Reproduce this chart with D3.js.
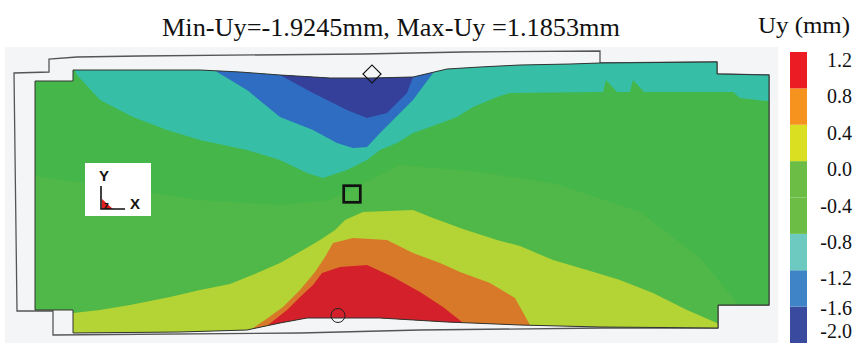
<!DOCTYPE html>
<html>
<head>
<meta charset="utf-8">
<script src="https://cdn.jsdelivr.net/npm/d3@7"></script>
<style>
  body { margin: 0; background: #fff; }
  svg { display: block; }
</style>
</head>
<body>
<svg width="854" height="343"></svg>
<script>
// Uy contour levels (mm), low -> high
var levels = [-2.0, -1.6, -1.2, -0.8, -0.4, 0.0, 0.4, 0.8, 1.2];
var levelLabels = ["-2.0", "-1.6", "-1.2", "-0.8", "-0.4", "0.0", "0.4", "0.8", "1.2"];

// one colour per band between two levels
var legendColors = ["#3a4a9e", "#3f84c6", "#6dcac0", "#6cbd45", "#6cbd45", "#dadf22", "#f6921e", "#ec1c24"];
var fieldColors  = ["#34409a", "#2e6dc1", "#36bea6", "#45b649", "#4fb849", "#b4d334", "#d8792a", "#d3202a"];

var titleText = "Min-Uy=-1.9245mm, Max-Uy =1.1853mm";
var unitText = "Uy (mm)";

// specimen outlines, [x mm, y mm]
var undeformedOutline = [[0,104.8],[14,105.2],[14,110.4],[25.2,111.2],[50.4,111.6],[139.6,112.4],[179.6,113.2],
  [234.4,113.6],[234.4,108.8],[281.2,109.2],[281.2,104.4],[302,104],[302,12],[281.6,12],[281.6,2.8],
  [235.6,2.8],[162.4,2],[114.4,0.8],[15.6,0],[15.6,9.6],[1.2,9.6]];

var deformedOutline = [[8.4,101.6],[23.6,101.6],[23.6,106],[54.4,106],[74.4,106],[90.4,105.2],[106.4,104],
  [126.4,102.8],[143.2,102.8],[159.6,103.2],[173.2,106.4],[186.4,107.2],[202.4,108],[222.4,108.4],
  [234.4,108.8],[281.2,109.2],[281.2,104.4],[302,104],[302,12],[281.6,12],[281.6,2.8],[234.4,3.2],
  [202.4,4],[173.2,5.2],[146.4,6.8],[117.2,6.8],[106.4,4.8],[93.2,2],[66.4,1.2],[23.6,0.8],[23.6,10],[8.4,10]];

// isolines, [x mm, y mm]
var isoNeg16 = [[105.2,110],[106.4,104],[119.6,96.8],[133.2,90],[141.2,86.8],[149.2,88.8],[157.2,96.8],[159.6,103.2],[160.8,110]];

var isoNeg12 = [[79.2,110],[81.2,105.2],[93.2,98],[106.4,87.2],[119.6,82],[129.2,76.8],[135.6,74.8],[141.2,75.2],
  [146.4,80.8],[151.6,86],[159.6,94],[167.6,104.8],[169.6,110]];

var isoNeg08 = [[22.4,110],[25.2,104],[34.4,94],[47.6,87.2],[61.2,82],[74.4,78],[93.2,74],[106.4,70],[117.2,64.8],
  [123.6,62.8],[133.2,66],[141.2,70],[146.4,74],[153.2,76.8],[159.6,80.8],[166.4,83.2],[177.2,87.2],[183.6,91.2],
  [193.2,95.2],[198.4,96.8],[235.6,97.2],[236.8,102],[241.2,97.2],[246.4,97.2],[247.6,102],[252,97.2],
  [287.6,97.2],[290.4,94.8],[304.4,93.2]];

var isoNeg04 = [[4.4,64],[34.4,60],[74.4,54],[106.4,52],[126.4,54],[138.4,60],[154.4,68],[186.4,65.2],[218.4,60],
  [250.4,49.2],[274.4,30.8],[288.4,14],[292.4,-2]];

var iso00 = [[6.4,8.8],[23.6,8.8],[34.4,10],[46.4,12],[62.4,15.2],[74.4,18],[86.4,20.4],[97.2,24.8],[106.4,28.8],
  [115.6,34],[122.4,38],[128.4,42],[132.4,46],[139.6,49.2],[159.6,50],[167.6,46.8],[179.6,42.4],[193.2,38],
  [202.4,35.6],[215.6,30],[229.2,26],[242.4,22],[255.6,16.8],[269.2,10],[281.2,4.8],[290.4,-2]];

var iso04 = [[92.4,-2],[94.4,2],[100.4,6],[107.6,11.2],[114.4,18],[120.4,25.2],[124.4,31.2],[127.6,36.8],[135.6,38.8],
  [149.2,38],[159.6,32.8],[170.4,28.8],[178.4,25.2],[190.4,20.8],[200.4,14.8],[206.4,4],[208.4,-2]];

var iso08 = [[99.6,-2],[101.6,4],[109.2,10],[114.4,15.2],[119.6,20],[123.2,24.8],[130.4,27.2],[141.2,28],[151.6,23.2],
  [162.4,17.2],[171.6,11.2],[179.2,5.2],[180.8,-2]];

// gauge markers, [x mm, y mm]
var diamondPoint = [143.2, 104.4];
var squarePoint = [135.2, 56.4];
var circlePoint = [129.6, 7.8];

var svg = d3.select("svg");

var xScale = d3.scaleLinear().domain([0, 300]).range([14, 764]);
var yScale = d3.scaleLinear().domain([0, 112]).range([335, 55]);
var legendScale = d3.scaleLinear().domain([-2.0, 1.2]).range([343, 52]);

var line = d3.line()
  .x(function(d){ return xScale(d[0]); })
  .y(function(d){ return yScale(d[1]); });

// painted in order, each band covers everything past its isoline
var bands = [
  {iso: isoNeg04, side: "below", color: fieldColors[4]},
  {iso: iso00, side: "below", color: fieldColors[5]},
  {iso: iso04, side: "below", color: fieldColors[6]},
  {iso: iso08, side: "below", color: fieldColors[7]},
  {iso: isoNeg08, side: "above", color: fieldColors[2]},
  {iso: isoNeg12, side: "above", color: fieldColors[1]},
  {iso: isoNeg16, side: "above", color: fieldColors[0]}
];

// light panel behind the specimen
svg.append("rect")
  .attr("x", 5).attr("y", 47)
  .attr("width", 773).attr("height", 296)
  .attr("fill", "#f3f5f6");

svg.append("defs").append("clipPath")
  .attr("id", "specimen")
  .append("path")
  .attr("d", line(deformedOutline) + "Z");

// undeformed shape
svg.append("path")
  .attr("d", line(undeformedOutline) + "Z")
  .attr("fill", "none")
  .attr("stroke", "#555")
  .attr("stroke-width", 1.3);

var field = svg.append("g").attr("clip-path", "url(#specimen)");

field.append("path")
  .attr("d", line(deformedOutline) + "Z")
  .attr("fill", fieldColors[3]);

field.selectAll(".band")
  .data(bands)
  .enter()
  .append("path")
  .attr("class", "band")
  .attr("d", function(b){
    var pts = b.iso.slice();
    var edge = b.side === "above" ? 130 : -10;
    pts.push([pts[pts.length - 1][0], edge]);
    pts.push([pts[0][0], edge]);
    return line(pts) + "Z";
  })
  .attr("fill", function(b){ return b.color; });

svg.append("path")
  .attr("d", line(deformedOutline) + "Z")
  .attr("fill", "none")
  .attr("stroke", "#333")
  .attr("stroke-width", 1);

// markers
svg.append("path")
  .attr("d", d3.symbol().type(d3.symbolSquare).size(162)())
  .attr("transform", "translate(" + xScale(diamondPoint[0]) + "," + yScale(diamondPoint[1]) + ") rotate(45)")
  .attr("fill", "none")
  .attr("stroke", "#111")
  .attr("stroke-width", 1.2);

svg.append("rect")
  .attr("x", xScale(squarePoint[0]) - 8.3)
  .attr("y", yScale(squarePoint[1]) - 8.3)
  .attr("width", 16.6).attr("height", 16.6)
  .attr("fill", "none")
  .attr("stroke", "#111")
  .attr("stroke-width", 2.7);

svg.append("circle")
  .attr("cx", xScale(circlePoint[0]))
  .attr("cy", yScale(circlePoint[1]))
  .attr("r", 7)
  .attr("fill", "none")
  .attr("stroke", "#222")
  .attr("stroke-width", 1);

// axis triad
var triad = svg.append("g");
triad.append("rect")
  .attr("x", 85).attr("y", 163)
  .attr("width", 66).attr("height", 53)
  .attr("fill", "#fff");
triad.append("path")
  .attr("d", "M102,199L102,209L113,209Z")
  .attr("fill", "#e02020");
triad.append("path")
  .attr("d", "M101,186L101,209L125,209")
  .attr("fill", "none")
  .attr("stroke", "#111")
  .attr("stroke-width", 1.6);
triad.append("text")
  .attr("x", 104).attr("y", 209)
  .attr("font-family", "Liberation Sans, Arial, sans-serif")
  .attr("font-size", 10).attr("font-weight", "bold")
  .attr("fill", "#111")
  .text("z");
triad.append("text")
  .attr("x", 104).attr("y", 181)
  .attr("text-anchor", "middle")
  .attr("font-family", "Liberation Sans, Arial, sans-serif")
  .attr("font-size", 15).attr("font-weight", "bold")
  .attr("fill", "#111")
  .text("Y");
triad.append("text")
  .attr("x", 135).attr("y", 209)
  .attr("text-anchor", "middle")
  .attr("font-family", "Liberation Sans, Arial, sans-serif")
  .attr("font-size", 15).attr("font-weight", "bold")
  .attr("fill", "#111")
  .text("X");

// title
svg.append("text")
  .attr("x", 162).attr("y", 36)
  .attr("font-family", "Liberation Serif, Times New Roman, serif")
  .attr("font-size", 25)
  .attr("textLength", 458)
  .attr("lengthAdjust", "spacingAndGlyphs")
  .attr("fill", "#111")
  .text(titleText);

// colour bar
var legend = svg.append("g");

legend.append("text")
  .attr("x", 758).attr("y", 33)
  .attr("font-family", "Liberation Serif, Times New Roman, serif")
  .attr("font-size", 23)
  .attr("textLength", 92)
  .attr("lengthAdjust", "spacingAndGlyphs")
  .attr("fill", "#111")
  .text(unitText);

legend.selectAll(".swatch")
  .data(legendColors)
  .enter()
  .append("rect")
  .attr("class", "swatch")
  .attr("x", 790)
  .attr("width", 17)
  .attr("y", function(c, i){ return legendScale(levels[i + 1]); })
  .attr("height", function(c, i){ return legendScale(levels[i]) - legendScale(levels[i + 1]); })
  .attr("fill", function(c){ return c; });

// label baselines: just under each level, kept inside the picture and apart
var tickY = levels.map(function(v){ return legendScale(v) + 15; });
tickY[0] = Math.min(tickY[0], 338);
for (var i = 1; i < tickY.length; i++) {
  tickY[i] = Math.min(tickY[i], tickY[i - 1] - 23);
}

legend.selectAll(".tick")
  .data(levels)
  .enter()
  .append("text")
  .attr("class", "tick")
  .attr("x", 852)
  .attr("y", function(v, i){ return tickY[i]; })
  .attr("text-anchor", "end")
  .attr("font-family", "Liberation Serif, Times New Roman, serif")
  .attr("font-size", 20)
  .attr("fill", "#111")
  .text(function(v, i){ return levelLabels[i]; });
</script>
</body>
</html>
